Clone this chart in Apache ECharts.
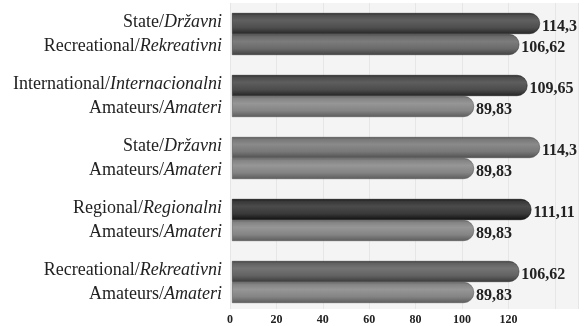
<!DOCTYPE html>
<html>
<head>
<meta charset="utf-8">
<script src="https://cdn.jsdelivr.net/npm/echarts@6/dist/echarts.min.js"></script>
<style>
  html, body { margin: 0; padding: 0; background: #ffffff; }
  #chart { width: 584px; height: 326px; }
</style>
</head>
<body>
<div id="chart"></div>
<script>
// Each group compares two competition levels; the top bar and bottom bar of a pair.
const topNames = [
  ['State', 'Državni'],
  ['International', 'Internacionalni'],
  ['State', 'Državni'],
  ['Regional', 'Regionalni'],
  ['Recreational', 'Rekreativni']
];
const bottomNames = [
  ['Recreational', 'Rekreativni'],
  ['Amateurs', 'Amateri'],
  ['Amateurs', 'Amateri'],
  ['Amateurs', 'Amateri'],
  ['Amateurs', 'Amateri']
];
const topValues = [114.3, 109.65, 114.3, 111.11, 106.62];
const bottomValues = [106.62, 89.83, 89.83, 89.83, 89.83];
const topColors = ['#4e4e4e', '#4c4c4c', '#787878', '#393939', '#626262'];
const bottomColors = ['#6a6a6a', '#848484', '#848484', '#848484', '#848484'];
const xTicks = [0, 20, 40, 60, 80, 100, 120];

const categories = topNames.map((t, i) =>
  '{n|' + t[0] + '/}{i|' + t[1] + '}\n{n|' + bottomNames[i][0] + '/}{i|' + bottomNames[i][1] + '}'
);

function shade(hex, amt) {
  const n = parseInt(hex.slice(1), 16);
  const clamp = v => Math.max(0, Math.min(255, v));
  const r = clamp((n >> 16) + amt), g = clamp(((n >> 8) & 255) + amt), b = clamp((n & 255) + amt);
  return 'rgb(' + r + ',' + g + ',' + b + ')';
}
// Cylinder-like shading across the bar thickness
function tube(hex) {
  return new echarts.graphic.LinearGradient(0, 0, 0, 1, [
    { offset: 0, color: shade(hex, -30) },
    { offset: 0.12, color: shade(hex, 0) },
    { offset: 0.35, color: shade(hex, 18) },
    { offset: 0.7, color: shade(hex, 0) },
    { offset: 1, color: shade(hex, -40) }
  ]);
}
function items(values, colors) {
  return values.map((v, i) => ({
    value: v,
    itemStyle: { color: tube(colors[i]), borderColor: shade(colors[i], -45), borderWidth: 0.6 }
  }));
}
const valueLabel = {
  show: true,
  position: 'right',
  distance: 2,
  offset: [0, 3],
  fontFamily: 'Liberation Serif',
  fontWeight: 'bold',
  fontSize: 16,
  color: '#222',
  formatter: p => String(p.value).replace('.', ',')
};
const serif = { fontFamily: 'Liberation Serif', fontSize: 18, color: '#222', lineHeight: 24 };

const chart = echarts.init(document.getElementById('chart'));
chart.setOption({
  animation: false,
  grid: [
    // panel with the printed value scale
    { left: 230, right: 6, top: 3, bottom: 13, show: true, backgroundColor: '#f4f4f4', borderWidth: 0 },
    // drawing area of the bars
    { left: 232, right: 6, top: 3, bottom: 13 }
  ],
  xAxis: [
    {
      gridIndex: 0, type: 'value', min: 0, max: 150, interval: 20,
      axisLine: { show: false }, axisTick: { show: false },
      splitLine: { show: true, lineStyle: { color: '#e6e6e6', width: 1 } },
      axisLabel: {
        margin: 5,
        fontFamily: 'Liberation Serif', fontWeight: 'bold', fontSize: 12, color: '#222',
        formatter: v => (xTicks.indexOf(v) >= 0 ? String(v) : '')
      }
    },
    {
      gridIndex: 1, type: 'value', min: 0, max: 128.4, show: false
    }
  ],
  yAxis: [
    {
      gridIndex: 0, type: 'category', inverse: true, data: categories, show: false
    },
    {
      gridIndex: 1, type: 'category', inverse: true, data: categories,
      axisLine: { show: false }, axisTick: { show: false },
      axisLabel: {
        margin: 10, align: 'right',
        rich: { n: serif, i: Object.assign({}, serif, { fontStyle: 'italic' }) }
      }
    }
  ],
  series: [
    {
      type: 'bar', xAxisIndex: 1, yAxisIndex: 1,
      data: items(topValues, topColors),
      barWidth: 21, barGap: '0%',
      itemStyle: { borderRadius: [0, 10, 10, 0] },
      label: valueLabel
    },
    {
      type: 'bar', xAxisIndex: 1, yAxisIndex: 1,
      data: items(bottomValues, bottomColors),
      barWidth: 21, barGap: '0%',
      itemStyle: { borderRadius: [0, 10, 10, 0] },
      label: valueLabel
    }
  ]
});
</script>
</body>
</html>
